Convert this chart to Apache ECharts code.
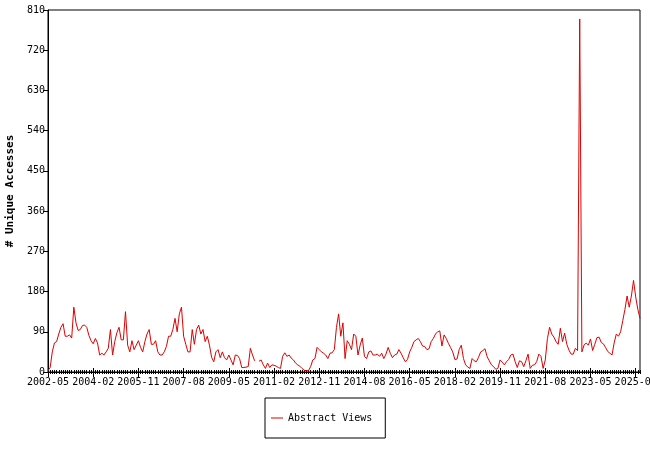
<!DOCTYPE html>
<html>
<head>
<meta charset="utf-8">
<script src="https://cdn.jsdelivr.net/npm/echarts@6/dist/echarts.min.js"></script>
<style>
html,body{margin:0;padding:0;background:#fff;}
#chart{width:650px;height:450px;}
</style>
</head>
<body>
<div id="chart"></div>
<script>
var startYear = 2002, startMonth = 5, monthCount = 276;
var labelEvery = 21;
var seriesName = 'Abstract Views';
var yAxisTitle = '# Unique Accesses';
var yTicks = [0, 90, 180, 270, 360, 450, 540, 630, 720, 810];
var abstractViews = [
3,10,45,65,68,85,100,108,80,80,83,76,
145,110,93,95,104,105,100,82,70,63,75,65,
38,42,38,45,53,95,38,68,88,100,72,72,
135,60,45,70,50,60,70,55,45,68,85,95,
62,62,70,45,38,38,45,57,80,80,95,120,
90,130,145,80,62,45,45,95,62,95,105,85,
95,68,80,60,33,23,45,50,32,45,32,27,
38,27,16,38,37,30,10,10,11,12,53,38,
25,null,24,27,16,8,20,10,16,15,13,10,
8,35,43,35,38,31,27,20,16,13,8,4,
3,3,12,27,30,55,50,45,42,38,30,42,
43,50,100,130,80,110,30,70,62,50,85,80,
38,60,76,35,30,45,47,38,38,40,35,42,
30,40,55,42,32,38,40,50,42,32,23,28,
45,55,68,72,75,68,58,57,50,52,68,75,
85,90,92,58,83,75,64,55,45,28,29,50,
60,30,16,11,8,30,25,23,33,45,48,52,
34,25,16,12,6,8,27,22,16,23,28,38,
40,23,10,25,23,12,25,40,8,15,16,23,
40,35,8,27,75,100,85,78,68,62,98,68,
87,62,49,40,40,53,48,790,45,60,65,60,
74,48,62,77,78,66,63,55,46,42,38,65,
85,80,90,115,140,170,145,170,205,168,140,120
];
var categories = [];
for (var k = 0; k < monthCount; k++) {
  var m = startMonth - 1 + k;
  var y = startYear + Math.floor(m / 12);
  var mm = (m % 12) + 1;
  categories.push(y + '-' + (mm < 10 ? '0' + mm : '' + mm));
}

var chart = echarts.init(document.getElementById('chart'), null, {renderer: 'canvas'});
var font = 'DejaVu Sans Mono';
function isMajor(idx) { return idx % labelEvery === 0; }
function tickAxis(opts) {
  return Object.assign({
    type: 'category',
    data: categories,
    position: 'bottom',
    boundaryGap: false,
    axisLine: {show: true, onZero: false, lineStyle: {color: '#000', width: 1}},
    axisLabel: {show: false},
    splitLine: {show: false}
  }, opts);
}
var option = {
  animation: false,
  backgroundColor: '#fff',
  grid: {left: 48, top: 10, right: 10, bottom: 78, containLabel: false, outerBoundsMode: 'none',
         show: true, borderColor: '#000', borderWidth: 1, backgroundColor: 'transparent'},
  legend: {
    data: [{name: seriesName, icon: 'rect'}],
    left: 265, top: 398,
    padding: [15, 13, 15, 6],
    itemWidth: 12, itemHeight: 1,
    backgroundColor: '#fff',
    borderColor: '#000', borderWidth: 1,
    textStyle: {fontFamily: font, fontSize: 10, color: '#000'}
  },
  xAxis: [
    tickAxis({
      axisTick: {show: true, interval: isMajor, length: 5, inside: false, lineStyle: {color: '#000'}},
      axisLabel: {show: true, interval: isMajor, fontFamily: font, fontSize: 10, color: '#000', margin: 5, hideOverlap: false}
    }),
    tickAxis({axisTick: {show: true, interval: isMajor, length: 4, inside: true, lineStyle: {color: '#000'}}}),
    tickAxis({axisTick: {show: true, interval: 0, length: 2, inside: false, lineStyle: {color: '#000'}}}),
    tickAxis({axisTick: {show: true, interval: 0, length: 2, inside: true, lineStyle: {color: '#000'}}})
  ],
  yAxis: {
    type: 'value',
    min: yTicks[0], max: yTicks[yTicks.length - 1], interval: 90,
    name: yAxisTitle,
    nameLocation: 'middle',
    nameGap: 30,
    nameRotate: 90,
    nameTextStyle: {fontFamily: font, fontSize: 11, fontWeight: 'bold', color: '#000'},
    axisLine: {show: true, lineStyle: {color: '#000'}},
    axisTick: {show: true, length: 5, lineStyle: {color: '#000'}},
    axisLabel: {fontFamily: font, fontSize: 10, color: '#000', margin: 3},
    splitLine: {show: false}
  },
  series: [{
    name: seriesName,
    type: 'line',
    xAxisIndex: 0,
    data: abstractViews,
    symbol: 'none',
    connectNulls: false,
    lineStyle: {color: '#dd0000', width: 1},
    itemStyle: {color: '#dd0000'}
  }]
};
chart.setOption(option);
</script>
</body>
</html>
